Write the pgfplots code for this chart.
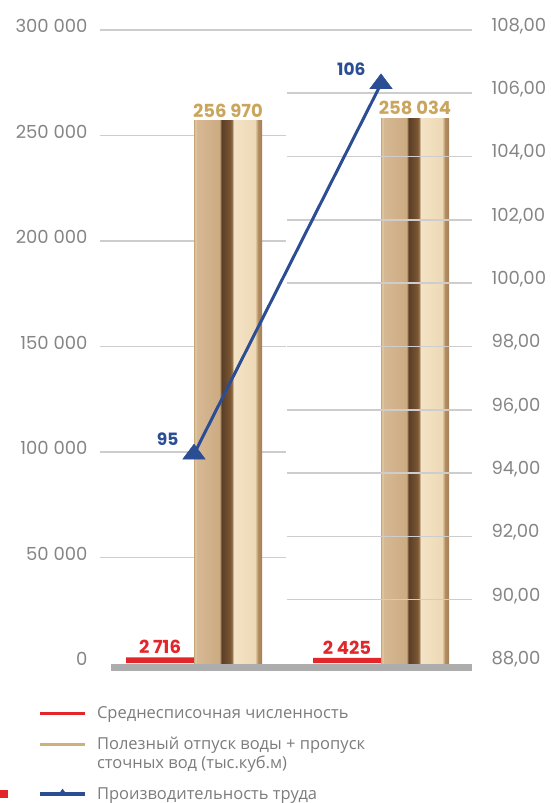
\documentclass[border=0pt]{standalone}
\usepackage{fontspec}
\setmainfont{Poppins}
\newfontfamily\legfont{Open Sans}
\usepackage{pgfplots}
\pgfplotsset{compat=1.18}

\definecolor{redc}{HTML}{E3262A}
\definecolor{bluec}{HTML}{2B4D93}
\definecolor{goldc}{HTML}{C9A55E}
\definecolor{gridc}{HTML}{CDCDCD}
\definecolor{basec}{HTML}{ADADAD}
\definecolor{tickc}{HTML}{858585}
\definecolor{legc}{HTML}{7C7C7C}
\definecolor{legold}{HTML}{CDB07A}
% bar stripes, left to right
\definecolor{s0}{HTML}{C8A67B}
\definecolor{s1}{HTML}{E4CBA4}
\definecolor{s2}{HTML}{D6B893}
\definecolor{s3}{HTML}{CCAB82}
\definecolor{s4}{HTML}{5A3E26}
\definecolor{s5}{HTML}{7B5633}
\definecolor{s6}{HTML}{9C7A55}
\definecolor{s7}{HTML}{F4E3C6}
\definecolor{s8}{HTML}{EDD9B6}
\definecolor{s9}{HTML}{B38D60}
\definecolor{s10}{HTML}{A67F57}
\pgfdeclarehorizontalshading{barshade}{100bp}{color(0bp)=(s0); color(25bp)=(s0);
  color(26.1bp)=(s1); color(27.2bp)=(s2); color(43.8bp)=(s3); color(45.3bp)=(s4);
  color(51.8bp)=(s5); color(53.3bp)=(s6); color(54bp)=(s7); color(69.9bp)=(s8);
  color(72.1bp)=(s9); color(75bp)=(s10); color(100bp)=(s10)}

\tikzset{bignum/.style={/pgf/number format/.cd, fixed, precision=0, 1000 sep={\ }}}
\pgfplotsset{
  /pgf/number format/assume math mode=true,
  twin/.style={
    scale only axis,
    width=372pt, height=633pt,
    xmin=0.4973, xmax=2.4866,
    xtick=\empty,
    axis line style={draw=none},
    major tick length=0pt,
    clip=false,
    tick label style={font=\fontsize{18}{20}\selectfont, text=tickc},
  },
  tanbar/.style={ybar, bar width=68pt, bar shift=34pt, draw=none, shading=barshade,
    nodes near coords,
    nodes near coords style={font=\bfseries\fontsize{18}{20}\selectfont, text=goldc,
      bignum, /tikz/.cd, anchor=south, xshift=34pt, yshift=0pt}},
}

\begin{document}
\begin{tikzpicture}
\path[use as bounding box] (-100pt,-140pt) rectangle (450pt,663pt);
% stray red marker at the lower left edge of the source
\fill[redc] (-100pt,-127pt) rectangle (-92pt,-135pt);

\begin{axis}[
  twin,
  ymin=0, ymax=300000,
  ytick={0,50000,100000,150000,200000,250000,300000},
  scaled y ticks=false,
  yticklabel style={bignum, /tikz/.cd, yshift=4pt, xshift=-9pt},
  legend cell align=left,
  legend style={
    at={(-0.166,-0.066)}, anchor=north west,
    draw=none, fill=none, inner sep=0pt,
    font=\legfont\fontsize{16.5}{19}\selectfont, text=legc,
    row sep=13pt,
    cells={anchor=west, align=left},
  },
]
  % grid of the left scale
  \foreach \v in {50000,100000,150000,200000,250000}{
    \edef\tmp{\noexpand\draw[gridc, line width=1.6pt] (axis cs:0.4973,\v) -- (axis cs:1.4918,\v);}
    \tmp
  }
  \draw[gridc, line width=1.6pt] (axis cs:0.4973,300000) -- (axis cs:2.4866,300000);

  \addlegendimage{legend image code/.code={\draw[redc, line width=3.2pt] (0pt,0pt) -- (45pt,0pt);
      \path[draw=none, fill=none] (0pt,0pt) -- (55pt,0pt);}}
  \addlegendentry{Среднесписочная численность}
  \addlegendimage{legend image code/.code={\draw[legold, line width=3.2pt] (0pt,9.5pt) -- (45pt,9.5pt);
      \path[draw=none, fill=none] (0pt,0pt) -- (55pt,0pt);}}
  \addlegendentry{Полезный отпуск воды + пропуск\\сточных вод (тыс.куб.м)}
  \addlegendimage{legend image code/.code={\draw[bluec, line width=3.2pt] (0pt,0pt) -- (45pt,0pt);
      \fill[bluec] (18pt,-1.5pt) -- (22.5pt,5pt) -- (27pt,-1.5pt) -- cycle;
      \path[draw=none, fill=none] (0pt,0pt) -- (55pt,0pt);}}
  \addlegendentry{Производительность труда}

  \addplot[ybar, bar width=68pt, bar shift=-34pt, fill=redc, draw=none,
    nodes near coords,
    nodes near coords style={font=\bfseries\fontsize{18}{20}\selectfont, text=redc,
      bignum, /tikz/.cd, anchor=south, xshift=-34pt, yshift=0pt}]
    coordinates {(1,2716) (2,2425)};
  \addplot[tanbar] coordinates {(1,256970)};
  \addplot[tanbar] coordinates {(2,258034)};

  % base strip
  \draw[basec, line width=7pt] ([yshift=-4pt]axis cs:0.557,0) -- ([yshift=-4pt]axis cs:2.4866,0);
\end{axis}

\begin{axis}[
  twin,
  ymin=88, ymax=108,
  ytick={88,90,...,108},
  yticklabel pos=right,
  yticklabel style={/pgf/number format/.cd, fixed, fixed zerofill, precision=2, use comma,
    /tikz/.cd, anchor=west, yshift=4pt, xshift=16pt},
]
  \foreach \v in {90,92,...,106}{
    \edef\tmp{\noexpand\draw[gridc, line width=1.6pt] (axis cs:1.4973,\v) -- (axis cs:2.4866,\v);}
    \tmp
  }
  \addplot[bluec, line width=3pt, mark=triangle*,
    mark options={solid, line width=0.4pt, mark size=10pt, xscale=1.3},
    point meta=explicit symbolic,
    nodes near coords,
    nodes near coords style={font=\bfseries\fontsize{17}{19}\selectfont, text=bluec,
      anchor=south east, xshift=-12pt, yshift=5pt}]
    coordinates {(1,94.6) [95] (2,106.3) [106]};
\end{axis}
\end{tikzpicture}
\end{document}
